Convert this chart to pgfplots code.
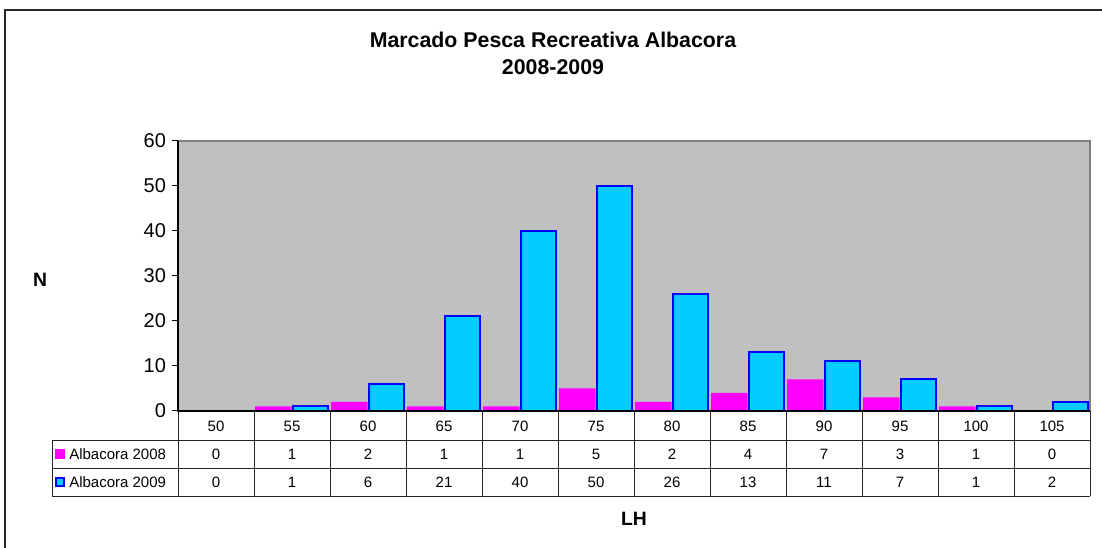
\documentclass[border=0pt]{standalone}
\usepackage{pgfplots}
\pgfplotsset{compat=1.18}
\usepackage{fontspec}
\setmainfont{Liberation Sans}
\definecolor{plotgray}{HTML}{C0C0C0}
\definecolor{bordergray}{HTML}{808080}
\definecolor{mag}{HTML}{FF00FF}
\definecolor{cyanbar}{HTML}{00CCFF}
\definecolor{bluebord}{HTML}{0000FF}
\begin{document}
\begin{tikzpicture}
\begin{scope}[x=0.75pt,y=-0.75pt]
\path[use as bounding box] (0,0) rectangle (1102,548);
\draw[line width=0.9pt, black!85] (5,548) -- (5,10) -- (1102,10);
\node[font=\bfseries\fontsize{16}{20.25}\selectfont, align=center] at (553,53) {Marcado Pesca Recreativa Albacora\\2008-2009};
\node[font=\bfseries\fontsize{14.5}{16}\selectfont] at (40,280) {N};
\node[font=\bfseries\fontsize{14.5}{16}\selectfont] at (634,519) {LH};
\end{scope}
\begin{axis}[at={(133.5pt,-308.25pt)}, anchor=south west, scale only axis,
  width=684pt, height=202.5pt, xmin=-0.5, xmax=11.5, ymin=0, ymax=60,
  ytick={0,10,...,60}, xtick=\empty, ytick pos=left, axis line style={draw=none},
  axis background/.style={fill=plotgray},
  tick align=outside, major tick length=4.5pt, tick style={black, line width=0.75pt},
  yticklabel style={font=\fontsize{15}{17}\selectfont, xshift=-1pt},
  /pgf/number format/assume math mode=true, clip=false]
\addplot[ybar, bar width=0.48, bar shift=-0.245, fill=mag, draw=none] coordinates {
(0,0) (1,1) (2,2) (3,1) (4,1) (5,5) (6,2) (7,4) (8,7) (9,3) (10,1) (11,0)};
\addplot[ybar, bar width=0.465, bar shift=0.24, fill=cyanbar, draw=bluebord, line width=1.5pt] coordinates {
(0,0) (1,1) (2,6) (3,21) (4,40) (5,50) (6,26) (7,13) (8,11) (9,7) (10,1) (11,2)};
\draw[bordergray, line width=1.2pt] (rel axis cs:0,1) -- (rel axis cs:1,1) -- (rel axis cs:1,0);
\draw[black, line width=0.9pt] (rel axis cs:0,1) -- (rel axis cs:0,0) -- (rel axis cs:1,0);
\end{axis}
\begin{scope}[x=0.75pt,y=-0.75pt]
\foreach \i in {0,...,12} \draw[line width=0.75pt, black!85] (178+76*\i,411) -- (178+76*\i,496);
\draw[line width=0.75pt, black!85] (52,440) -- (1090,440);
\draw[line width=0.75pt, black!85] (52,468) -- (1090,468);
\draw[line width=0.75pt, black!85] (52,496) -- (1090,496);
\draw[line width=0.75pt, black!85] (52,440) -- (52,496);
\begin{scope}[font=\fontsize{11.25}{13}\selectfont]
\foreach \v [count=\i from 0] in {50,55,60,65,70,75,80,85,90,95,100,105}
  \node at (216+76*\i,426) {\v};
\foreach \v [count=\i from 0] in {0,1,2,1,1,5,2,4,7,3,1,0}
  \node at (216+76*\i,454.5) {\v};
\foreach \v [count=\i from 0] in {0,1,6,21,40,50,26,13,11,7,1,2}
  \node at (216+76*\i,482.5) {\v};
\fill[mag] (55,449) rectangle (65,459);
\node[anchor=west, inner sep=0pt] at (69,454.5) {Albacora 2008};
\filldraw[fill=cyanbar, draw=bluebord, line width=1.5pt] (56,478) rectangle (64,486);
\node[anchor=west, inner sep=0pt] at (69,482.5) {Albacora 2009};
\end{scope}
\end{scope}
\end{tikzpicture}
\end{document}
